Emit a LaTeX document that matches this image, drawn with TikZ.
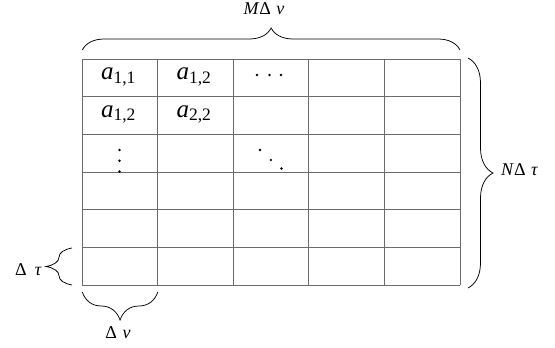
\documentclass[tikz,border=0pt]{standalone}
\usepackage{fontspec}
\setmainfont{Liberation Serif}
\usetikzlibrary{decorations.pathreplacing}

\newcommand{\gapsp}{\hspace{5.5pt}}

\begin{document}
\begin{tikzpicture}[x=1pt,y=-1pt,
  gridline/.style={draw=black!58, line width=0.9pt},
  curly/.style={decorate, decoration={brace, amplitude=#1}, line width=0.75pt},
  entry/.style={inner sep=0pt, anchor=base, font=\fontsize{25}{28}\selectfont},
  lbl/.style={inner sep=0pt, font=\fontsize{18}{21}\selectfont},
  dot/.style={fill=black, draw=none, circle, inner sep=0pt, minimum size=2.6pt}]
\useasboundingbox (0,0) rectangle (555,348);

% grid corners
\coordinate (tl) at (82.3,59);
\coordinate (tr) at (460,59);
\coordinate (bl) at (82.3,285);
\coordinate (br) at (460,285);

% the 6 x 5 table
\foreach \i in {0,...,5}
  \draw[gridline] (82.3+75.54*\i,59) -- (82.3+75.54*\i,285);
\foreach \j in {0,...,6}
  \draw[gridline] (82.3,59+37.67*\j) -- (460,59+37.67*\j);

% entries
\node[entry] (a11) at (118.5,79.5) {\textit{a}\textsubscript{1,1}};
\node[entry] (a12) at (194,79.5) {\textit{a}\textsubscript{1,2}};
\node[entry] (a21) at (118.5,117.2) {\textit{a}\textsubscript{1,2}};
\node[entry] (a22) at (194,117.2) {\textit{a}\textsubscript{2,2}};

% ellipses
\foreach \x [count=\k] in {257,269.5,281}
  \node[dot] (h\k) at (\x,75) {};
\foreach \y [count=\k] in {150,160.7,171.5}
  \node[dot] (v\k) at (119.5,\y) {};
\foreach \x/\y [count=\k] in {260/150,270.8/160,281.5/168.5}
  \node[dot] (d\k) at (\x,\y) {};

% braces
\draw[curly=22] ([yshift=9pt]tl) -- ([yshift=9pt]tr);
\draw[curly=25] (468,58) -- (468,288);
\draw[curly=26] (72,285) -- (72,248);
\draw[curly=28] (157.8,292) -- (82.3,292);

% brace labels
\node[lbl, anchor=base] (M) at (264,14.5) {\textit{M}Δ\gapsp\textit{ν}};
\node[lbl, anchor=base west] (N) at (501,175.5) {\textit{N}Δ\gapsp\textit{τ}};
\node[lbl, anchor=base east] (dt) at (42,275) {Δ\hspace{8pt}\textit{τ}};
\node[lbl, anchor=base] (dv) at (118,338) {Δ\gapsp\textit{ν}};
\end{tikzpicture}
\end{document}
